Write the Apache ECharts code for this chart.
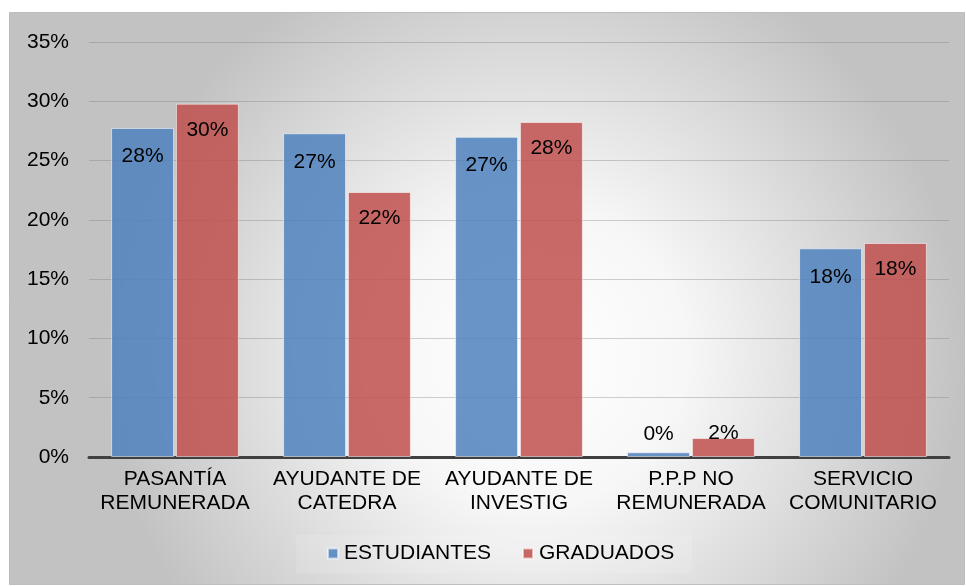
<!DOCTYPE html>
<html><head><meta charset="utf-8">
<script src="https://cdn.jsdelivr.net/npm/echarts@6/dist/echarts.min.js"></script>
<style>html,body{margin:0;padding:0;background:#fff}#c{width:966px;height:586px}</style>
</head><body><div id="c"></div>
<script>
const categories = ['PASANTÍA\nREMUNERADA', 'AYUDANTE DE\nCATEDRA', 'AYUDANTE DE\nINVESTIG', 'P.P.P NO\nREMUNERADA', 'SERVICIO\nCOMUNITARIO'];
const seriesNames = ['ESTUDIANTES', 'GRADUADOS'];
const estudiantes = [27.75, 27.3, 27.0, 0.4, 17.6];
const graduados = [29.8, 22.35, 28.25, 1.6, 18.05];
const yTicks = [0, 5, 10, 15, 20, 25, 30, 35];

const font = 'Liberation Sans, Arial, sans-serif';
const FS = 21;
function items(vals, smallDist) {
  return vals.map(v => v < 5
    ? {value: v, label: {position: 'top', distance: smallDist}}
    : {value: v});
}
const chart = echarts.init(document.getElementById('c'));
chart.setOption({
  animation: false,
  textStyle: {fontFamily: font},
  graphic: [{
    type: 'rect', z: -10, silent: true,
    shape: {x: 9.5, y: 12.5, width: 955, height: 572},
    style: {
      fill: {type: 'radial', x: 0.55, y: 0.6, r: 0.75,
        colorStops: [{offset: 0, color: '#ffffff'}, {offset: 0.35, color: '#f7f7f7'}, {offset: 1, color: '#c2c2c2'}]},
      stroke: '#bdbdbd', lineWidth: 1
    }
  }, {
    type: 'rect', z: -5, silent: true,
    shape: {x: 296, y: 535, width: 396, height: 38},
    style: {fill: 'rgba(255,255,255,0.12)'}
  }],
  legend: {
    data: seriesNames, top: 538, left: 322, itemWidth: 10, itemHeight: 10, itemGap: 31,
    icon: 'rect', textStyle: {fontSize: FS, color: '#000', fontFamily: font, padding: [0, 0, 0, 1]}
  },
  grid: {left: 89, right: 17, top: 42, bottom: 129},
  xAxis: {
    type: 'category', data: categories,
    axisLine: {lineStyle: {color: '#404040', width: 3}},
    axisTick: {show: false},
    axisLabel: {fontSize: FS, color: '#000', lineHeight: 24, margin: 10, interval: 0, fontFamily: font}
  },
  yAxis: {
    type: 'value', min: yTicks[0], max: yTicks[yTicks.length - 1], interval: 5,
    axisLine: {show: false}, axisTick: {show: false},
    splitLine: {lineStyle: {color: 'rgba(120,120,120,0.35)', width: 1}},
    axisLabel: {fontSize: FS, color: '#000', margin: 20, formatter: v => v + '%', fontFamily: font}
  },
  series: [{
    name: seriesNames[0], type: 'bar', data: items(estudiantes, 8),
    barWidth: '36.6%', barGap: '3%',
    itemStyle: {color: 'rgba(79,129,189,0.85)', borderColor: 'rgba(255,255,255,0.55)', borderWidth: 1},
    label: {show: true, position: 'insideTop', distance: 18, fontSize: FS, color: '#000', fontFamily: font,
      formatter: p => Math.round(p.value) + '%'}
  }, {
    name: seriesNames[1], type: 'bar', data: items(graduados, -6),
    barWidth: '36.6%', barGap: '3%',
    itemStyle: {color: 'rgba(192,80,77,0.85)', borderColor: 'rgba(255,255,255,0.55)', borderWidth: 1},
    label: {show: true, position: 'insideTop', distance: 16, fontSize: FS, color: '#000', fontFamily: font,
      formatter: p => Math.round(p.value) + '%'}
  }]
});
</script></body></html>
